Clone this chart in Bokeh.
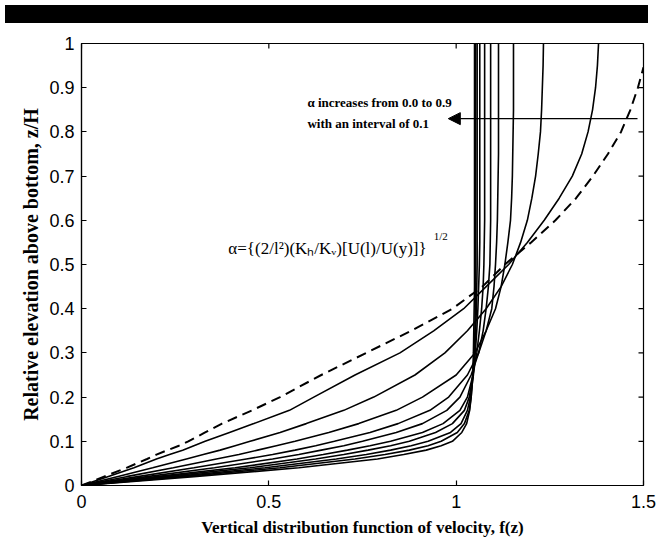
from bokeh.plotting import figure
from bokeh.models import FixedTicker, Label, Arrow, NormalHead, Div, Range1d
from bokeh.layouts import column
from bokeh.embed import file_html
from bokeh.resources import INLINE

# elevation grid z/H
z = [0, 0.02, 0.04, 0.06, 0.07, 0.08, 0.09, 0.10, 0.12, 0.14, 0.17, 0.20, 0.25, 0.30,
     0.35, 0.40, 0.45, 0.50, 0.55, 0.60, 0.65, 0.70, 0.75, 0.80, 0.85, 0.90, 0.95, 1.0]

# f(z) for alpha = 0.0 ... 0.9
f_a00 = [0, 0.300, 0.580, 0.790, 0.860, 0.920, 0.960, 0.990, 1.015, 1.028, 1.036, 1.040, 1.044, 1.046,
         1.047, 1.048, 1.049, 1.049, 1.049, 1.049, 1.049, 1.049, 1.049, 1.049, 1.049, 1.049, 1.049, 1.049]
f_a01 = [0, 0.270, 0.530, 0.730, 0.810, 0.875, 0.925, 0.960, 1.003, 1.022, 1.035, 1.040, 1.045, 1.048,
         1.050, 1.051, 1.052, 1.052, 1.052, 1.052, 1.052, 1.052, 1.052, 1.052, 1.052, 1.052, 1.052, 1.052]
f_a02 = [0, 0.245, 0.490, 0.680, 0.760, 0.825, 0.880, 0.925, 0.985, 1.013, 1.030, 1.038, 1.046, 1.050,
         1.052, 1.054, 1.055, 1.056, 1.056, 1.056, 1.056, 1.056, 1.056, 1.056, 1.056, 1.056, 1.056, 1.056]
f_a03 = [0, 0.220, 0.450, 0.625, 0.700, 0.765, 0.825, 0.875, 0.945, 0.990, 1.022, 1.035, 1.045, 1.051,
         1.055, 1.058, 1.060, 1.062, 1.063, 1.063, 1.063, 1.063, 1.063, 1.063, 1.063, 1.063, 1.063, 1.063]
f_a04 = [0, 0.200, 0.410, 0.575, 0.645, 0.710, 0.770, 0.825, 0.910, 0.965, 1.010, 1.030, 1.045, 1.055,
         1.062, 1.068, 1.072, 1.074, 1.075, 1.076, 1.076, 1.076, 1.076, 1.076, 1.076, 1.076, 1.076, 1.076]
f_a05 = [0, 0.175, 0.355, 0.510, 0.580, 0.640, 0.700, 0.750, 0.840, 0.910, 0.975, 1.010, 1.040, 1.060,
         1.072, 1.080, 1.086, 1.090, 1.091, 1.092, 1.092, 1.092, 1.092, 1.092, 1.092, 1.092, 1.092, 1.092]
f_a06 = [0, 0.150, 0.300, 0.440, 0.510, 0.570, 0.625, 0.675, 0.770, 0.845, 0.930, 0.980, 1.030, 1.060,
         1.080, 1.095, 1.101, 1.105, 1.108, 1.110, 1.111, 1.112, 1.113, 1.113, 1.113, 1.113, 1.113, 1.113]
f_a07 = [0, 0.120, 0.245, 0.360, 0.420, 0.470, 0.520, 0.570, 0.660, 0.740, 0.840, 0.910, 1.000, 1.050,
         1.080, 1.105, 1.120, 1.130, 1.138, 1.145, 1.148, 1.150, 1.151, 1.152, 1.153, 1.153, 1.153, 1.153]
f_a08 = [0, 0.095, 0.190, 0.280, 0.325, 0.370, 0.410, 0.450, 0.530, 0.600, 0.700, 0.780, 0.890, 0.970,
         1.030, 1.080, 1.120, 1.150, 1.172, 1.190, 1.202, 1.212, 1.219, 1.225, 1.228, 1.230, 1.232, 1.233]
f_a09 = [0, 0.070, 0.140, 0.200, 0.235, 0.270, 0.300, 0.330, 0.395, 0.460, 0.555, 0.620, 0.730, 0.850,
         0.940, 1.020, 1.080, 1.140, 1.190, 1.235, 1.275, 1.310, 1.335, 1.352, 1.364, 1.372, 1.377, 1.380]
solid_curves = [f_a00, f_a01, f_a02, f_a03, f_a04, f_a05, f_a06, f_a07, f_a08, f_a09]

# dashed reference curve
z_dash = [0, 0.02, 0.04, 0.06, 0.07, 0.08, 0.09, 0.10, 0.12, 0.14, 0.17, 0.20, 0.25, 0.30,
          0.35, 0.40, 0.45, 0.50, 0.55, 0.60, 0.65, 0.70, 0.75, 0.80, 0.85, 0.90, 0.946]
f_dash = [0, 0.060, 0.120, 0.175, 0.200, 0.230, 0.260, 0.285, 0.330, 0.375, 0.455, 0.530, 0.640, 0.760,
          0.880, 0.990, 1.070, 1.130, 1.200, 1.265, 1.320, 1.365, 1.405, 1.440, 1.465, 1.485, 1.500]

x_ticks = [0, 0.5, 1, 1.5]
x_tick_labels = ["0", "0.5", "1", "1.5"]
y_ticks = [0, 0.1, 0.2, 0.3, 0.4, 0.5, 0.6, 0.7, 0.8, 0.9, 1.0]
y_tick_labels = ["0", "0.1", "0.2", "0.3", "0.4", "0.5", "0.6", "0.7", "0.8", "0.9", "1"]

FW, FH = 562, 442
X0, X1, Y0, Y1 = 0, 1.5, 0, 1
p = figure(output_backend="svg", toolbar_location=None,
           frame_width=FW, frame_height=FH,
           x_range=Range1d(X0, X1), y_range=Range1d(Y0, Y1),
           min_border_left=81, min_border_right=14, min_border_top=15, min_border_bottom=50)
p.background_fill_color = "white"
p.border_fill_color = "white"
p.outline_line_color = "black"
p.outline_line_width = 1.2
p.xgrid.visible = False
p.ygrid.visible = False

for f in solid_curves:
    p.line(f, z, line_color="black", line_width=1.6)
p.line(f_dash, z_dash, line_color="black", line_width=2, line_dash="10 6")

# inward tick marks on the top and right edges of the box
tick_px = 5
ty = tick_px / FH * (Y1 - Y0)
tx = tick_px / FW * (X1 - X0)
p.segment(x0=x_ticks, y0=[Y1] * len(x_ticks), x1=x_ticks, y1=[Y1 - ty] * len(x_ticks),
          line_color="black", line_width=1.2)
p.segment(x0=[X1] * len(y_ticks), y0=y_ticks, x1=[X1 - tx] * len(y_ticks), y1=y_ticks,
          line_color="black", line_width=1.2)

tick_font = "Liberation Sans"
label_font = "Liberation Serif"

def style_axis(ax):
    ax.major_tick_in = 5
    ax.major_tick_out = 0
    ax.minor_tick_line_color = None
    ax.axis_line_color = "black"
    ax.axis_line_width = 1.2
    ax.major_tick_line_color = "black"
    ax.major_tick_line_width = 1.2
    ax.major_label_text_font = tick_font
    ax.major_label_text_font_size = "18px"
    ax.major_label_text_color = "black"
    ax.axis_label_text_font = label_font
    ax.axis_label_text_font_style = "bold"
    ax.axis_label_text_color = "black"

xa = p.xaxis[0]
xa.ticker = FixedTicker(ticks=x_ticks)
xa.major_label_overrides = {t: l for t, l in zip(x_ticks, x_tick_labels)}
xa.axis_label = "Vertical distribution function of velocity, f(z)"
xa.major_label_standoff = 9
xa.axis_label_standoff = 7
style_axis(xa)
xa.axis_label_text_font_size = "17px"

ya = p.yaxis[0]
ya.ticker = FixedTicker(ticks=y_ticks)
ya.major_label_overrides = {t: l for t, l in zip(y_ticks, y_tick_labels)}
ya.axis_label = "Relative elevation above bottom, z/H"
ya.major_label_standoff = 7
ya.axis_label_standoff = 4
style_axis(ya)
ya.axis_label_text_font_size = "20px"

# annotations
p.add_layout(Label(x=0.603, y=0.866, text="α increases from 0.0 to 0.9",
                   text_font=label_font, text_font_style="bold", text_font_size="13px",
                   text_baseline="middle", text_color="black"))
p.add_layout(Label(x=0.603, y=0.819, text="with an interval of 0.1",
                   text_font=label_font, text_font_style="bold", text_font_size="13px",
                   text_baseline="middle", text_color="black"))
p.add_layout(Arrow(x_start=1.484, y_start=0.830, x_end=0.979, y_end=0.830,
                   line_color="black", line_width=1.3,
                   end=NormalHead(size=12, fill_color="black", line_color="black")))
p.add_layout(Label(x=0.392, y=0.536, text="α={(2/l²)(Kₕ/Kᵥ)[U(l)/U(y)]}",
                   text_font=label_font, text_font_size="17px",
                   text_baseline="middle", text_color="black"))
p.add_layout(Label(x=0.94, y=0.565, text="1/2",
                   text_font=label_font, text_font_size="11px",
                   text_baseline="middle", text_color="black"))

bar = Div(text="", width=643, height=18,
          styles={"background-color": "black"})

layout = column(bar, p, spacing=0)
open("out.html", "w").write(file_html(layout, INLINE))
